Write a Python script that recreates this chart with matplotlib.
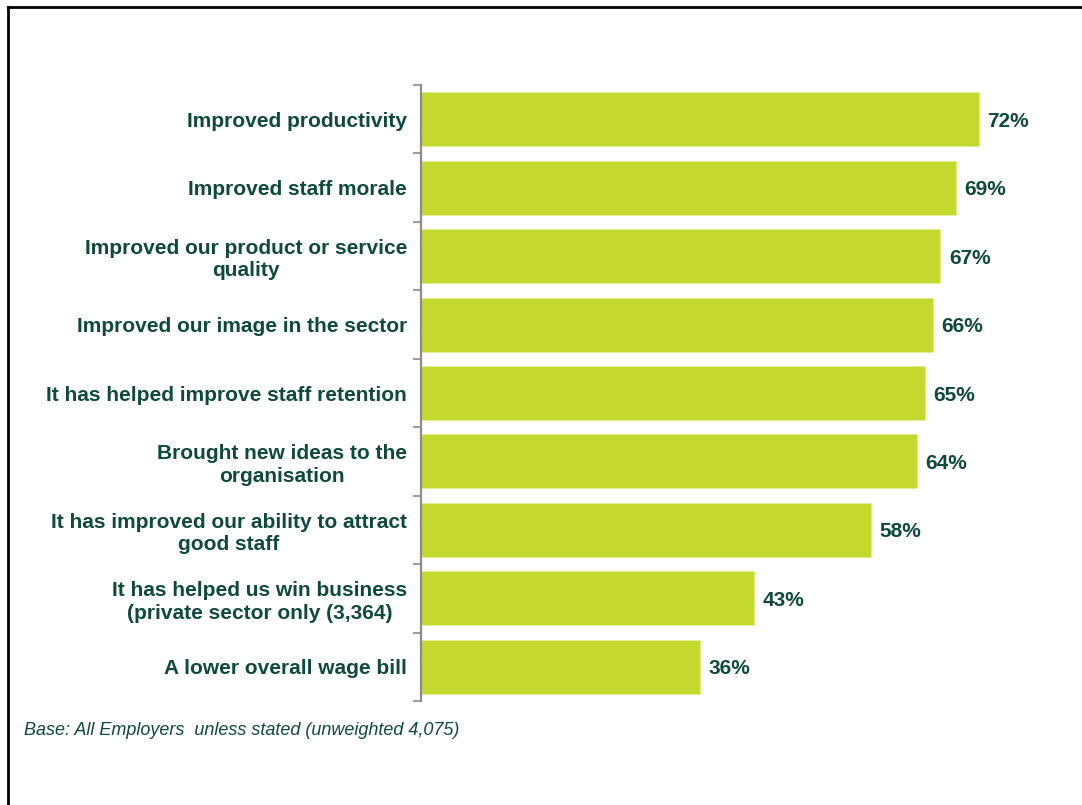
import matplotlib
matplotlib.use("Agg")
import matplotlib.pyplot as plt
from matplotlib.lines import Line2D
import numpy as np

categories = [
    "Improved productivity",
    "Improved staff morale",
    "Improved our product or service\nquality",
    "Improved our image in the sector",
    "It has helped improve staff retention",
    "Brought new ideas to the\norganisation",
    "It has improved our ability to attract\ngood staff",
    "It has helped us win business\n(private sector only (3,364)",
    "A lower overall wage bill",
]
values = [72, 69, 67, 66, 65, 64, 58, 43, 36]

bar_color = "#C3D92F"
text_color = "#0E4A3A"
spine_color = "#8C8C8C"

plt.rcParams["font.family"] = ["Liberation Sans", "DejaVu Sans"]

fig = plt.figure(figsize=(10.82, 8.05), dpi=100)
ax = fig.add_axes([421 / 1082, 1 - 701 / 805, 620 / 1082, 616 / 805])

y = np.arange(len(categories))
ax.barh(y, values, height=0.79, color=bar_color, edgecolor="#E4EE9A", linewidth=0.6)
ax.set_ylim(len(categories) - 0.5, -0.5)
ax.set_xlim(0, 80)

for yi, v in zip(y, values):
    ax.text(v + 1.1, yi + 0.03, f"{v}%", va="center", ha="left", fontsize=15,
            fontweight="bold", color=text_color)

ax.set_yticks(y)
ax.set_yticklabels(categories, fontsize=15, fontweight="bold", color=text_color,
                   ha="right", multialignment="center", linespacing=1.22)
ax.tick_params(axis="y", length=0, pad=10)
ax.set_yticks(np.arange(-0.5, len(categories), 1.0), minor=True)
ax.tick_params(axis="y", which="minor", length=6, width=1.2, color=spine_color, direction="out")
ax.set_xticks([])

for s in ["top", "right", "bottom"]:
    ax.spines[s].set_visible(False)
ax.spines["left"].set_color(spine_color)
ax.spines["left"].set_linewidth(1.6)

fig.text(24 / 1082, 1 - 730 / 805, "Base: All Employers  unless stated (unweighted 4,075)",
         fontsize=13, style="italic", color=text_color, va="center", ha="left")

# frame lines along top and left edges
fig.add_artist(Line2D([8 / 1082, 1.0], [1 - 7 / 805, 1 - 7 / 805], color="black",
                      linewidth=2, transform=fig.transFigure))
fig.add_artist(Line2D([8 / 1082, 8 / 1082], [0.0, 1 - 7 / 805], color="black",
                      linewidth=2, transform=fig.transFigure))

fig.savefig("out.png", dpi=100)
